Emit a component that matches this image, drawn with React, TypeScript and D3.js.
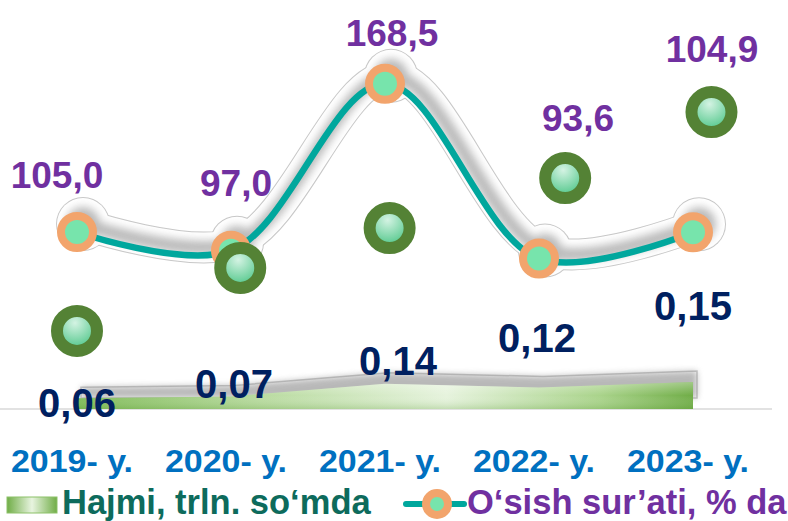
import React from 'react';
import * as d3 from 'd3';

// chart values
const years = ['2019- y.', '2020- y.', '2021- y.', '2022- y.', '2023- y.'];
const hajmi = [0.06, 0.07, 0.14, 0.12, 0.15];
const osish = [105.0, 97.0, 168.5, 93.6, 104.9];
// the loose green dots (category position, value on the growth axis)
const dotPos = [0, 1.06, 2.03, 3.17, 4.12];
const dotVal = [62.6, 89.6, 106.7, 128.1, 156.4];

const legendHajmi = 'Hajmi, trln. so‘mda';
const legendOsish = 'O‘sish sur’ati, % da';

// label nudges (dx, dy), as placed by hand in the original
const hajmiLabelShift = [[0, 19], [3, 2], [13, -9], [-2, -35], [0, -62]];
const osishLabelShift = [[-20, -44], [5, -55], [7, -38], [39, -128], [19, -170]];

const W = 788;
const H = 521;
const FONT = '"Liberation Sans", Arial, sans-serif';

export default function App() {
  const x = d3.scaleLinear().domain([0, 4]).range([77, 693]);
  const yArea = d3.scaleLinear().domain([0, 1.5]).range([409, 139]);
  const yLine = d3.scaleLinear().domain([30, 180]).range([407, 57]);

  const area = d3.area<number>()
    .x((d, i) => x(i))
    .y0(yArea(0))
    .y1(d => yArea(d))
    .curve(d3.curveLinear);

  const line = d3.line<number>()
    .x((d, i) => x(i))
    .y(d => yLine(d))
    .curve(d3.curveCatmullRom.alpha(0.5));

  const areaPath = area(hajmi) || '';
  const linePath = line(osish) || '';
  const fmt2 = (v: number) => v.toFixed(2).replace('.', ',');
  const fmt1 = (v: number) => v.toFixed(1).replace('.', ',');

  return (
    <div style={{ position: 'fixed', left: 0, top: 0 }}>
      <svg width={W} height={H} style={{ display: 'block', background: '#fff' }}>
        <defs>
          <filter id="blur5" x="-20%" y="-50%" width="140%" height="200%">
            <feGaussianBlur stdDeviation="4" />
          </filter>
          <filter id="blur3" x="-20%" y="-100%" width="140%" height="300%">
            <feGaussianBlur stdDeviation="3" />
          </filter>
          <linearGradient id="areaGrad" x1="0" x2="1" y1="0" y2="0">
            <stop offset="0" stopColor="#7fbb56" />
            <stop offset="0.3" stopColor="#b9dba0" />
            <stop offset="0.6" stopColor="#e6f3dd" />
            <stop offset="0.85" stopColor="#a9d38a" />
            <stop offset="1" stopColor="#70ad47" />
          </linearGradient>
          <linearGradient id="areaGradV" x1="0" x2="0" y1="0" y2="1">
            <stop offset="0" stopColor="#ffffff" stopOpacity="0.35" />
            <stop offset="0.5" stopColor="#ffffff" stopOpacity="0" />
            <stop offset="1" stopColor="#5a9a34" stopOpacity="0.25" />
          </linearGradient>
          <radialGradient id="dotGrad" cx="0.45" cy="0.3" r="0.75">
            <stop offset="0" stopColor="#d4f3e3" />
            <stop offset="1" stopColor="#3cc07c" />
          </radialGradient>
          <linearGradient id="legGrad" x1="0" x2="1" y1="0" y2="0">
            <stop offset="0" stopColor="#70ad47" />
            <stop offset="0.5" stopColor="#e8f4e0" />
            <stop offset="1" stopColor="#70ad47" />
          </linearGradient>
        </defs>

        {/* axis line */}
        <line x1={0} x2={772} y1={409} y2={409} stroke="#d9d9d9" strokeWidth={1.5} />

        {/* area shadow */}
        <g transform="translate(4,-11)">
          <path d={areaPath} fill="#ffffff" stroke="#c8c8c8" strokeWidth={1.5} />
          <path d={areaPath} fill="#8a8a8a" opacity={0.6} filter="url(#blur3)" />
        </g>
        <path d={areaPath} fill="url(#areaGrad)" />
        <path d={areaPath} fill="url(#areaGradV)" />

        {/* line shadow */}
        <g transform="translate(6,-8)">
          <path d={linePath} fill="none" stroke="#c8c8c8" strokeWidth={32} strokeLinecap="round" />
          {osish.map((v, i) => (
            <circle key={'so' + i} cx={x(i)} cy={yLine(v)} r={27} fill="#c8c8c8" />
          ))}
          <path d={linePath} fill="none" stroke="#ffffff" strokeWidth={30} strokeLinecap="round" />
          {osish.map((v, i) => (
            <circle key={'sw' + i} cx={x(i)} cy={yLine(v)} r={26} fill="#ffffff" />
          ))}
          <g filter="url(#blur5)" opacity={0.6}>
            <path d={linePath} fill="none" stroke="#8c8c8c" strokeWidth={13} strokeLinecap="round" />
            {osish.map((v, i) => (
              <circle key={'sb' + i} cx={x(i)} cy={yLine(v)} r={17} fill="#8c8c8c" />
            ))}
          </g>
        </g>

        {/* growth line */}
        <path d={linePath} fill="none" stroke="#00a79d" strokeWidth={6.5} />
        {osish.map((v, i) => (
          <circle key={'m' + i} cx={x(i)} cy={yLine(v)} r={16} fill="#77e4ac" stroke="#f2a46c" strokeWidth={8} />
        ))}

        {/* green dots */}
        {dotVal.map((v, i) => (
          <circle key={'d' + i} cx={x(dotPos[i])} cy={yLine(v)} r={20} fill="url(#dotGrad)" stroke="#548235" strokeWidth={12} />
        ))}

        {/* value labels */}
        {osish.map((v, i) => (
          <text key={'ol' + i} x={x(i) + osishLabelShift[i][0]} y={yLine(v) + osishLabelShift[i][1]}
            textAnchor="middle" fontFamily={FONT} fontWeight="bold" fontSize={37} fill="#7030a0">
            {fmt1(v)}
          </text>
        ))}
        {hajmi.map((v, i) => (
          <text key={'hl' + i} x={x(i) + hajmiLabelShift[i][0]} y={yArea(v) + hajmiLabelShift[i][1]}
            textAnchor="middle" fontFamily={FONT} fontWeight="bold" fontSize={40} fill="#002060">
            {fmt2(v)}
          </text>
        ))}

        {/* category labels */}
        {years.map((t, i) => (
          <text key={'c' + i} x={x(i) - 5} y={472} textAnchor="middle" fontFamily={FONT}
            fontWeight="bold" fontSize={32} fill="#0070c0" textLength={122} lengthAdjust="spacingAndGlyphs">
            {t}
          </text>
        ))}

        {/* legend */}
        <rect x={7} y={497} width={50} height={16} fill="url(#legGrad)" stroke="#8cc168" strokeWidth={1} />
        <text x={62} y={514} fontFamily={FONT} fontWeight="bold" fontSize={34.5} fill="#0d6b5c">
          {legendHajmi}
        </text>
        <line x1={406} x2={464} y1={504} y2={504} stroke="#00a79d" strokeWidth={6} strokeLinecap="round" />
        <circle cx={437} cy={504} r={11} fill="#77e4ac" stroke="#f2a46c" strokeWidth={8} />
        <text x={467} y={514} fontFamily={FONT} fontWeight="bold" fontSize={34.5} fill="#7030a0">
          {legendOsish}
        </text>
      </svg>
    </div>
  );
}
